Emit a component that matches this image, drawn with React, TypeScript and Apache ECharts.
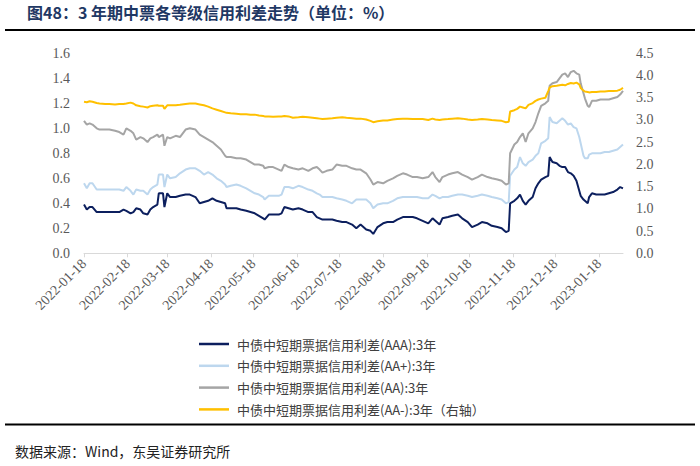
import React, { useEffect, useRef } from 'react';
import * as echarts from 'echarts';

const dates = [
  '2022-01-18','2022-01-20','2022-01-22','2022-01-24','2022-01-27','2022-01-29','2022-02-02','2022-02-05','2022-02-09','2022-02-12',
  '2022-02-15','2022-02-17','2022-02-20','2022-02-22','2022-02-24','2022-02-27','2022-03-01','2022-03-04','2022-03-06','2022-03-08',
  '2022-03-11','2022-03-12','2022-03-15','2022-03-16','2022-03-18','2022-03-20','2022-03-24','2022-03-27','2022-03-31','2022-04-03',
  '2022-04-07','2022-04-10','2022-04-13','2022-04-16','2022-04-19','2022-04-22','2022-04-25','2022-04-28','2022-04-29','2022-05-02',
  '2022-05-06','2022-05-09','2022-05-13','2022-05-16','2022-05-19','2022-05-22','2022-05-25','2022-05-26','2022-05-29','2022-06-01',
  '2022-06-05','2022-06-07','2022-06-09','2022-06-12','2022-06-15','2022-06-19','2022-06-22','2022-06-26','2022-06-29','2022-07-02',
  '2022-07-04','2022-07-06','2022-07-09','2022-07-13','2022-07-16','2022-07-20','2022-07-23','2022-07-27','2022-07-30','2022-08-02',
  '2022-08-06','2022-08-09','2022-08-11','2022-08-14','2022-08-18','2022-08-21','2022-08-25','2022-08-28','2022-09-01','2022-09-04',
  '2022-09-08','2022-09-11','2022-09-15','2022-09-19','2022-09-22','2022-09-24','2022-09-27','2022-09-29','2022-10-03','2022-10-06',
  '2022-10-10','2022-10-13','2022-10-17','2022-10-20','2022-10-24','2022-10-27','2022-10-31','2022-11-03','2022-11-07','2022-11-10',
  '2022-11-13','2022-11-15','2022-11-16','2022-11-19','2022-11-21','2022-11-23','2022-11-25','2022-11-27','2022-11-29','2022-12-02',
  '2022-12-04','2022-12-06','2022-12-08','2022-12-11','2022-12-13','2022-12-14','2022-12-16','2022-12-19','2022-12-21','2022-12-23',
  '2022-12-25','2022-12-27','2022-12-29','2022-12-31','2023-01-02','2023-01-04','2023-01-05','2023-01-07','2023-01-08','2023-01-10',
  '2023-01-11','2023-01-13','2023-01-16','2023-01-19','2023-01-22','2023-01-25','2023-01-28','2023-01-31','2023-02-02','2023-02-04',
];

// 中债中短期票据信用利差(AAA):3年
const aaa = [
  0.39,0.35,0.37,0.37,0.33,0.33,0.33,0.33,0.33,0.33,
  0.35,0.34,0.32,0.33,0.36,0.35,0.32,0.31,0.35,0.37,
  0.39,0.48,0.48,0.37,0.48,0.45,0.45,0.46,0.47,0.47,
  0.45,0.40,0.41,0.42,0.44,0.42,0.41,0.40,0.36,0.36,
  0.36,0.35,0.34,0.33,0.32,0.30,0.28,0.27,0.31,0.31,
  0.31,0.32,0.37,0.36,0.35,0.36,0.35,0.33,0.33,0.29,
  0.28,0.27,0.27,0.27,0.26,0.25,0.25,0.23,0.20,0.23,
  0.19,0.18,0.155,0.21,0.24,0.25,0.25,0.27,0.29,0.29,
  0.29,0.28,0.26,0.24,0.28,0.26,0.23,0.28,0.29,0.30,
  0.31,0.28,0.25,0.21,0.23,0.25,0.24,0.22,0.21,0.20,
  0.17,0.18,0.40,0.42,0.44,0.47,0.42,0.39,0.42,0.45,
  0.52,0.56,0.59,0.61,0.62,0.77,0.73,0.72,0.70,0.69,
  0.69,0.65,0.64,0.62,0.58,0.50,0.46,0.43,0.42,0.40,
  0.45,0.48,0.47,0.47,0.47,0.48,0.49,0.51,0.53,0.52,
];

// 中债中短期票据信用利差(AA+):3年
const aaPlus = [
  0.56,0.52,0.56,0.56,0.51,0.51,0.51,0.51,0.51,0.51,
  0.50,0.53,0.50,0.47,0.51,0.50,0.50,0.47,0.51,0.53,
  0.55,0.63,0.63,0.53,0.63,0.60,0.61,0.64,0.67,0.68,
  0.68,0.66,0.63,0.65,0.63,0.60,0.58,0.55,0.53,0.54,
  0.55,0.54,0.52,0.50,0.48,0.47,0.45,0.43,0.46,0.46,
  0.46,0.47,0.53,0.53,0.52,0.54,0.53,0.51,0.50,0.48,
  0.47,0.45,0.45,0.45,0.44,0.43,0.42,0.40,0.43,0.43,
  0.43,0.40,0.36,0.39,0.40,0.40,0.42,0.44,0.45,0.45,
  0.45,0.45,0.44,0.44,0.47,0.46,0.44,0.45,0.45,0.46,
  0.47,0.47,0.46,0.45,0.46,0.47,0.46,0.45,0.44,0.43,
  0.40,0.41,0.62,0.67,0.69,0.77,0.72,0.70,0.73,0.75,
  0.78,0.80,0.88,0.90,0.92,1.09,1.05,1.04,1.06,1.08,
  1.06,1.03,1.04,1.01,1.00,0.93,0.88,0.78,0.76,0.76,
  0.79,0.80,0.80,0.80,0.81,0.81,0.82,0.83,0.85,0.87,
];

// 中债中短期票据信用利差(AA):3年
const aa = [
  1.06,1.03,1.04,1.03,1.00,0.99,0.99,0.99,0.98,0.97,
  0.95,1.00,0.98,0.96,0.91,0.93,0.92,0.89,0.92,0.93,
  0.95,0.93,0.95,0.86,0.93,0.92,0.94,0.93,0.99,1.00,
  0.99,0.95,0.93,0.91,0.89,0.86,0.83,0.78,0.77,0.77,
  0.76,0.76,0.75,0.73,0.71,0.71,0.70,0.68,0.69,0.69,
  0.67,0.66,0.71,0.69,0.68,0.67,0.68,0.66,0.68,0.69,
  0.67,0.645,0.66,0.67,0.71,0.70,0.70,0.68,0.67,0.67,
  0.64,0.59,0.55,0.57,0.56,0.58,0.60,0.62,0.64,0.63,
  0.61,0.61,0.60,0.61,0.65,0.61,0.57,0.61,0.63,0.64,
  0.65,0.63,0.61,0.59,0.61,0.63,0.61,0.60,0.59,0.58,
  0.55,0.56,0.80,0.87,0.89,0.93,0.96,0.89,0.96,1.00,
  1.05,1.12,1.18,1.20,1.22,1.34,1.36,1.37,1.40,1.43,
  1.44,1.41,1.45,1.46,1.44,1.43,1.36,1.28,1.24,1.18,
  1.17,1.22,1.22,1.23,1.23,1.23,1.24,1.25,1.27,1.30,
];

// 中债中短期票据信用利差(AA-):3年（右轴）
const aaMinus = [
  3.41,3.40,3.42,3.41,3.38,3.37,3.36,3.36,3.35,3.36,
  3.36,3.37,3.39,3.37,3.33,3.31,3.30,3.28,3.31,3.32,
  3.33,3.32,3.32,3.25,3.33,3.33,3.33,3.34,3.36,3.37,
  3.37,3.35,3.33,3.30,3.26,3.23,3.20,3.17,3.16,3.15,
  3.14,3.13,3.13,3.12,3.12,3.10,3.09,3.08,3.08,3.07,
  3.08,3.08,3.09,3.08,3.05,3.06,3.07,3.06,3.05,3.04,
  3.03,3.02,3.03,3.04,3.05,3.06,3.05,3.04,3.03,3.03,
  3.01,2.98,2.95,2.97,2.99,2.99,3.01,3.02,3.03,3.03,
  3.02,3.02,3.02,3.00,3.03,3.01,3.00,3.01,3.02,3.03,
  3.04,3.03,3.01,3.00,3.01,3.02,3.01,3.00,2.99,2.98,
  2.95,2.96,3.19,3.22,3.25,3.30,3.28,3.26,3.34,3.38,
  3.43,3.46,3.48,3.50,3.65,3.73,3.76,3.77,3.78,3.79,
  3.78,3.81,3.83,3.82,3.84,3.80,3.72,3.66,3.64,3.63,
  3.62,3.63,3.63,3.64,3.64,3.65,3.65,3.66,3.68,3.72,
];

const tickDates = [
  '2022-01-18','2022-02-18','2022-03-18','2022-04-18','2022-05-18','2022-06-18','2022-07-18',
  '2022-08-18','2022-09-18','2022-10-18','2022-11-18','2022-12-18','2023-01-18',
];

const seriesNames = [
  '中债中短期票据信用利差(AAA):3年',
  '中债中短期票据信用利差(AA+):3年',
  '中债中短期票据信用利差(AA):3年',
  '中债中短期票据信用利差(AA-):3年（右轴）',
];
const seriesColors = ['#0C1F5E', '#BDD7EE', '#A5A5A5', '#FFC000'];

const titleText = '图48：3 年期中票各等级信用利差走势（单位：%）';
const sourceText = '数据来源：Wind，东吴证券研究所';

function parseLocal(s: string): number {
  const [y, m, d] = s.split('-').map(Number);
  return new Date(y, m - 1, d).getTime();
}
function fmtDate(v: number): string {
  const d = new Date(v);
  const p = (n: number) => (n < 10 ? '0' + n : '' + n);
  return d.getFullYear() + '-' + p(d.getMonth() + 1) + '-' + p(d.getDate());
}

export default function App() {
  const ref = useRef<HTMLDivElement>(null);
  useEffect(() => {
    if (!ref.current) return;
    const chart = echarts.init(ref.current, null, { renderer: 'svg' });
    const ts = dates.map(parseLocal);
    const tickVals = tickDates.map(parseLocal);
    const all = [aaa, aaPlus, aa, aaMinus];
    const serif = '"Liberation Serif", "Times New Roman", serif';
    const cjk = '"Noto Sans CJK SC", sans-serif';
    chart.setOption({
      animation: false,
      backgroundColor: '#ffffff',
      grid: { left: 84, right: 77, top: 53.3, bottom: 212.7, containLabel: false },
      xAxis: {
        type: 'value',
        min: ts[0],
        max: ts[ts.length - 1],
        scale: true,
        axisLine: { show: true, lineStyle: { color: '#D9D9D9', width: 1 } },
        axisTick: { show: true, customValues: tickVals, length: 4, lineStyle: { color: '#D9D9D9' } },
        axisLabel: {
          customValues: tickVals,
          rotate: 45,
          formatter: (v: number) => fmtDate(v),
          color: '#595959',
          fontFamily: serif,
          fontSize: 14,
          margin: 8,
          hideOverlap: false,
          showMinLabel: true,
          showMaxLabel: true,
        },
        splitLine: { show: false },
      },
      yAxis: [
        {
          type: 'value', min: 0, max: 1.6, interval: 0.2, position: 'left',
          axisLine: { show: false }, axisTick: { show: false }, splitLine: { show: false },
          axisLabel: { formatter: (v: number) => v.toFixed(1), color: '#595959', fontFamily: serif, fontSize: 14, margin: 14 },
        },
        {
          type: 'value', min: 0, max: 4.5, interval: 0.5, position: 'right',
          axisLine: { show: false }, axisTick: { show: false }, splitLine: { show: false },
          axisLabel: { formatter: (v: number) => v.toFixed(1), color: '#595959', fontFamily: serif, fontSize: 14, margin: 13 },
        },
      ],
      legend: {
        orient: 'vertical',
        left: 194,
        top: 332,
        itemWidth: 30,
        itemHeight: 2.5,
        itemGap: 7.8,
        icon: 'rect',
        textStyle: { fontFamily: cjk, fontSize: 13, color: '#404040', lineHeight: 14, padding: [0, 0, 0, 3] },
        data: seriesNames,
      },
      series: all.map((vals, i) => ({
        name: seriesNames[i],
        type: 'line',
        yAxisIndex: i === 3 ? 1 : 0,
        showSymbol: false,
        symbol: 'none',
        lineStyle: { color: seriesColors[i], width: 2 },
        itemStyle: { color: seriesColors[i] },
        data: ts.map((t, k) => [t, vals[k]]),
      })),
      graphic: [
        {
          type: 'text', left: 27, top: 4,
          style: { text: titleText, fill: '#1F3864', font: 'bold 16px "Noto Sans CJK SC", sans-serif' },
        },
        { type: 'rect', shape: { x: 5, y: 29, width: 690, height: 2 }, style: { fill: '#000000' } },
        { type: 'rect', shape: { x: 5, y: 423.5, width: 690, height: 2 }, style: { fill: '#000000' } },
        {
          type: 'text', left: 15, top: 444,
          style: { text: sourceText, fill: '#222222', font: '14px "Noto Sans CJK SC", sans-serif' },
        },
      ],
    });
    return () => chart.dispose();
  }, []);
  return (
    <div
      ref={ref}
      style={{ position: 'absolute', left: 0, top: 0, width: 700, height: 466, background: '#fff' }}
    />
  );
}
